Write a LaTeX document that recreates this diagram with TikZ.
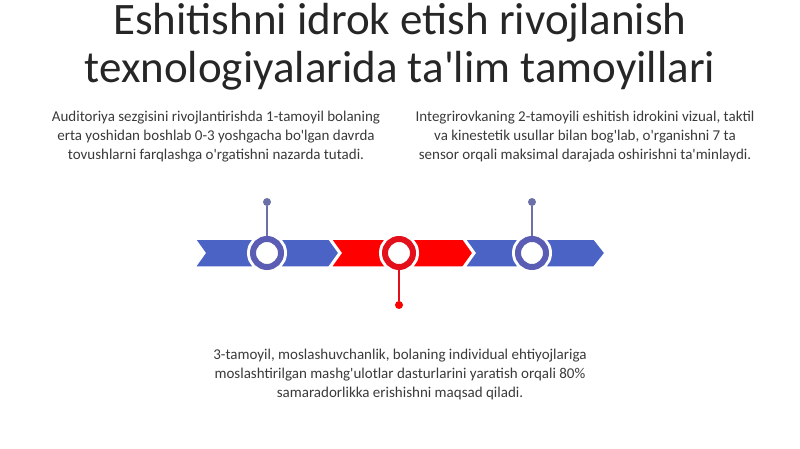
\documentclass[tikz,border=0pt]{standalone}
\usepackage{fontspec}
\setmainfont{Carlito}[Ligatures=TeXOff]
\usetikzlibrary{positioning}
\definecolor{band blue}{HTML}{4A63C4}
\definecolor{ring blue}{HTML}{5A5DB3}
\definecolor{stem blue}{HTML}{6B70A8}
\definecolor{band red}{HTML}{FF0000}
\definecolor{ring red}{HTML}{E3101C}
\definecolor{text grey}{HTML}{3A3A3A}
\tikzset{
  band/.style={draw=white, line width=1.5pt},
  ring/.style={circle, draw=#1, line width=6pt, fill=white, minimum size=28pt,
    inner sep=0pt, preaction={draw=white, line width=12pt}},
  stem/.style={draw=#1, line width=1.5pt},
  dot/.style={circle, fill=#1, minimum size=8pt, inner sep=0pt},
  caption/.style={align=center, text=text grey, font=\fontsize{15}{19}\selectfont}
}

\begin{document}
\begin{tikzpicture}[x=1pt, y=-1pt]
    \useasboundingbox (0,0) rectangle (800,449);
    % title
    \node[align=center, text=black!85, font=\fontsize{45}{48}\selectfont] (title) at (400,47)
      {Eshitishni idrok etish rivojlanish\\ texnologiyalarida ta'lim tamoyillari};
    % texts
    \node[caption] (txtA) at (216,137) {Auditoriya sezgisini rivojlantirishda 1-tamoyil bolaning\\
      erta yoshidan boshlab 0-3 yoshgacha bo'lgan davrda\\
      tovushlarni farqlashga o'rgatishni nazarda tutadi.};
    \node[caption] (txtB) at (585,137) {Integrirovkaning 2-tamoyili eshitish idrokini vizual, taktil\\
      va kinestetik usullar bilan bog'lab, o'rganishni 7 ta\\
      sensor orqali maksimal darajada oshirishni ta'minlaydi.};
    \node[caption] (txtC) at (400,374) {3-tamoyil, moslashuvchanlik, bolaning individual ehtiyojlariga\\
      moslashtirilgan mashg'ulotlar dasturlarini yaratish orqali 80\%\\
      samaradorlikka erishishni maqsad qiladi.};
    % band
    \draw[band, fill=band blue] (195,239) -- (329,239) -- (339,253) -- (329,267) -- (195,267) -- (205,253) -- cycle;
    \draw[band, fill=band red] (331,239) -- (463,239) -- (473,253) -- (463,267) -- (331,267) -- (341,253) -- cycle;
    \draw[band, fill=band blue] (465,239) -- (594,239) -- (605,253) -- (594,267) -- (465,267) -- (475,253) -- cycle;
    % markers
    \node[dot=stem blue] (d1) at (267,202) {};
    \node[dot=band red] (d2) at (399,305) {};
    \node[dot=stem blue] (d3) at (532,202) {};
    \node[ring=ring blue] (c1) at (267,253) {};
    \node[ring=ring red] (c2) at (399,253) {};
    \node[ring=ring blue] (c3) at (532,253) {};
    \draw[stem=stem blue] (c1.north) -- (d1);
    \draw[stem=ring red] (c2.south) -- (d2);
    \draw[stem=stem blue] (c3.north) -- (d3);
\end{tikzpicture}
\end{document}
